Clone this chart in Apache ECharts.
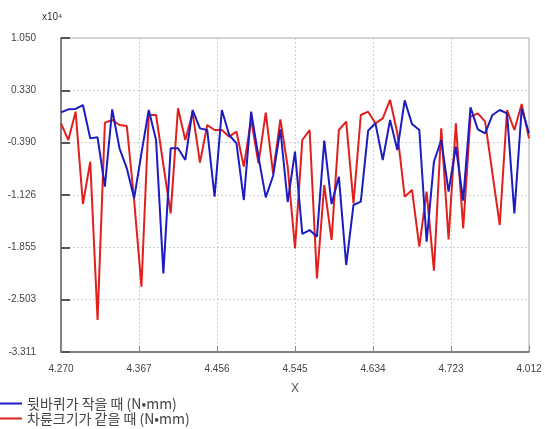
<!DOCTYPE html>
<html>
<head>
    <meta charset="utf-8">
    <title>chart</title>
    <script src="https://cdn.jsdelivr.net/npm/echarts@6/dist/echarts.min.js"></script>
    <style>
        html, body {
            margin: 0;
            padding: 0;
            background: #ffffff;
        }

        #chart {
            width: 545px;
            height: 429px;
        }
    </style>
</head>
<body>
<div id="chart"></div>
<script>
    // 눈금 라벨 (아래에서 위로)
    var yLabels = ['-3.311', '-2.503', '-1.855', '-1.126', '-0.390', '0.330', '1.050'];
    var xLabels = ['4.270', '4.367', '4.456', '4.545', '4.634', '4.723', '4.012'];
    var yMin = -3.311, yMax = 1.050;
    var pointCount = 65;

    var seriesNames = ['뒷바퀴가 작을 때 (N•mm)', '차륜크기가 같을 때 (N•mm)'];

    // 뒷바퀴가 작을 때 (x10^4)
    var blueValues = [
        0.018, 0.059, 0.064, 0.119, -0.344, -0.330, -1.015, 0.059, -0.482, -0.760,
        -1.177, -0.552, 0.050, -0.367, -2.219, -0.482, -0.482, -0.644, 0.050, -0.205,
        -0.228, -1.154, 0.050, -0.297, -0.413, -1.200, 0.027, -0.598, -1.163, -0.867,
        -0.219, -1.228, -0.529, -1.672, -1.617, -1.709, -0.376, -1.256, -0.876, -2.103,
        -1.269, -1.223, -0.237, -0.135, -0.644, -0.089, -0.506, 0.184, -0.144, -0.228,
        -1.779, -0.668, -0.367, -1.084, -0.459, -1.209, 0.087, -0.219, -0.274, -0.019,
        0.050, 0.004, -1.385, 0.069, -0.274
    ];

    // 차륜크기가 같을 때 (x10^4)
    var redValues = [
        -0.135, -0.367, 0.027, -1.256, -0.668, -2.867, -0.126, -0.089, -0.158, -0.172,
        -1.200, -2.404, -0.019, -0.019, -0.714, -1.385, 0.073, -0.367, 0.013, -0.681,
        -0.158, -0.228, -0.228, -0.320, -0.251, -0.737, -0.080, -0.691, 0.013, -0.830,
        -0.080, -0.737, -1.871, -0.367, -0.228, -2.288, -0.992, -1.756, -0.228, -0.112,
        -1.246, -0.019, 0.027, -0.135, -0.066, 0.189, -0.274, -1.154, -1.061, -1.848,
        -1.084, -2.181, -0.205, -1.746, -0.135, -1.594, -0.043, 0.004, -0.112, -0.830,
        -1.547, 0.050, -0.228, 0.133, -0.344
    ];

    var yStep = (yMax - yMin) / (yLabels.length - 1);
    var yTicks = yLabels.map(function (l, k) { return yMin + k * yStep; });
    var xStep = (pointCount - 1) / (xLabels.length - 1);
    var xTicks = xLabels.map(function (l, k) { return k * xStep; });

    function toPairs(arr) {
        return arr.map(function (v, i) { return [i, v]; });
    }

    var chart = echarts.init(document.getElementById('chart'));

    var option = {
        animation: false,
        backgroundColor: '#ffffff',
        textStyle: {fontFamily: 'Liberation Sans, Arial, sans-serif'},
        title: {
            text: 'x10⁴',
            left: 37,
            top: 7,
            textStyle: {fontSize: 10, fontWeight: 'normal', color: '#333'}
        },
        grid: {
            left: 61,
            right: 16,
            top: 38,
            bottom: 77,
            show: true,
            borderColor: '#a8a8a8',
            borderWidth: 1
        },
        legend: {
            orient: 'vertical',
            left: 0,
            top: 396,
            padding: 0,
            itemGap: 0,
            itemWidth: 22,
            itemHeight: 2,
            icon: 'rect',
            textStyle: {
                fontFamily: 'Noto Sans CJK KR, sans-serif',
                fontSize: 14,
                lineHeight: 15,
                color: '#444',
                padding: [0, 0, 0, 0]
            },
            data: seriesNames
        },
        xAxis: {
            type: 'value',
            min: 0,
            max: pointCount - 1,
            name: 'X',
            nameLocation: 'middle',
            nameGap: 31,
            nameTextStyle: {fontSize: 12, color: '#555'},
            axisLine: {onZero: false, lineStyle: {color: '#666', width: 1.5}},
            axisTick: {
                inside: true,
                length: 6,
                customValues: xTicks,
                lineStyle: {color: '#888'}
            },
            axisLabel: {
                customValues: xTicks,
                margin: 12,
                fontSize: 10,
                color: '#444',
                formatter: function (v) {
                    return xLabels[Math.round(v / xStep)];
                }
            },
            splitLine: {
                show: true,
                lineStyle: {color: '#cfcfcf', type: [2, 2]}
            }
        },
        yAxis: {
            type: 'value',
            min: yMin,
            max: yMax,
            axisLine: {show: true, onZero: false, lineStyle: {color: '#666', width: 1.5}},
            axisTick: {
                show: true,
                inside: true,
                length: 9,
                customValues: yTicks,
                lineStyle: {color: '#555', width: 2}
            },
            axisLabel: {
                customValues: yTicks,
                margin: 25,
                fontSize: 10,
                color: '#444',
                formatter: function (v) {
                    return yLabels[Math.round((v - yMin) / yStep)];
                }
            },
            splitLine: {
                show: true,
                lineStyle: {color: '#cfcfcf', type: [2, 2]}
            }
        },
        series: [
            {
                name: seriesNames[0],
                type: 'line',
                symbol: 'none',
                z: 3,
                lineStyle: {color: '#1c1cc0', width: 2},
                itemStyle: {color: '#1c1cc0'},
                data: toPairs(blueValues)
            },
            {
                name: seriesNames[1],
                type: 'line',
                symbol: 'none',
                z: 2,
                lineStyle: {color: '#e0201c', width: 2},
                itemStyle: {color: '#e0201c'},
                data: toPairs(redValues)
            }
        ]
    };
    chart.setOption(option);
</script>
</body>
</html>
